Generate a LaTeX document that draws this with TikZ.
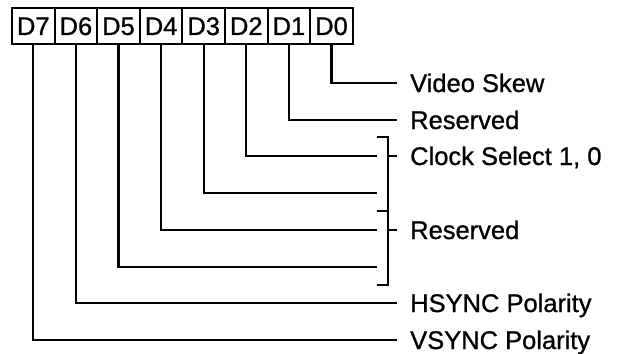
\documentclass[tikz,border=0pt]{standalone}
\usepackage{fontspec}
\setmainfont{Liberation Sans}[BoldFont=Liberation Sans,BoldFeatures={FakeBold=0.9}]
\begin{document}
\begin{tikzpicture}[x=1pt,y=-1pt,
  every node/.style={font=\fontsize{25.5}{30}\selectfont\bfseries},
  bitbox/.style={draw,line width=2.1pt,minimum width=42.6pt,minimum height=36pt,inner sep=0pt,text height=18pt,text depth=0pt},
  wire/.style={line width=2.1pt},
  lbl/.style={anchor=base west,inner sep=0pt}]
\useasboundingbox (0,0) rectangle (620,353);
% bit boxes
\foreach \n [count=\i from 0] in {7,6,5,4,3,2,1,0}{
  \node[bitbox] (d\n) at ({12+42.6*\i+21.3},26) {D\n};
}
% line end coordinates
\coordinate (e0) at (397,83);
\coordinate (e1) at (397,120);
\coordinate (e2) at (377,156);
\coordinate (e3) at (377,193);
\coordinate (e4) at (377,230);
\coordinate (e5) at (377,267);
\coordinate (e6) at (397,303);
\coordinate (e7) at (397,340);
% connectors
\foreach \n in {0,...,7}{
  \draw[wire] (d\n.south) |- (e\n);
}
% bracket
\coordinate (bt) at (388,137);
\coordinate (bm) at (388,211);
\coordinate (bb) at (388,285);
\draw[wire] (377,137) -- (bt) -- (bb) -- (377,285);
\draw[wire] (bm) -- (377,211);
\draw[wire] (388,156) -- (397,156);
\draw[wire] (388,230) -- (397,230);
% labels
\node[lbl] (l0) at (410,92) {Video Skew};
\node[lbl] (l1) at (410,129) {Reserved};
\node[lbl] (l2) at (410,165) {Clock Select 1, 0};
\node[lbl] (l4) at (410,239) {Reserved};
\node[lbl] (l6) at (410,312) {HSYNC Polarity};
\node[lbl] (l7) at (410,349) {VSYNC Polarity};
\end{tikzpicture}
\end{document}
